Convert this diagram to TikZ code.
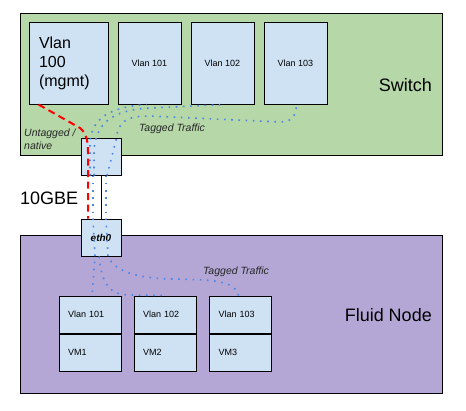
\documentclass[tikz,border=0pt]{standalone}
\usepackage{fontspec}
\setmainfont{Liberation Sans}
\usepackage{xcolor}
\definecolor{switchgreen}{HTML}{B6D7A8}
\definecolor{nodepurple}{HTML}{B4A7D6}
\definecolor{vlanblue}{HTML}{CFE2F3}
\definecolor{dotblue}{HTML}{4A86E8}
\tikzset{
    area-box/.style = {draw=black, line width=1pt, rectangle, inner sep=0pt, minimum width=422pt},
    vlan-box/.style = {draw=black, fill=vlanblue, line width=1pt, rectangle, inner sep=0pt, minimum width=63pt, minimum height=82pt, font=\fontsize{9}{11}\selectfont},
    vm-box/.style = {vlan-box, minimum width=62pt, minimum height=37pt, inner xsep=9pt, text width=44pt, align=left},
    port-box/.style = {draw=black, fill=vlanblue, line width=1pt, rectangle, inner sep=0pt, minimum width=40pt, minimum height=37pt},
    big-label/.style = {font=\fontsize{18}{20}\selectfont, inner sep=0pt},
    small-label/.style = {font=\fontsize{10.5}{13}\selectfont\itshape, text=black!85, inner sep=0pt},
    tagged-line/.style = {dotblue, line width=1.6pt, dash pattern=on 1.6pt off 5.6pt},
    untagged-line/.style = {red, line width=2pt, dash pattern=on 7pt off 4.5pt},
}
\begin{document}
\begin{tikzpicture}[x=1pt, y=-1pt]
\useasboundingbox (0,0) rectangle (466,410);
% switch
\node [area-box, fill=switchgreen, minimum height=142pt] (switch) at (231,84) {};
\node [big-label, anchor=east] (switch-label) at (432,85) {Switch};
\node [vlan-box, minimum width=79pt, inner xsep=10pt, text width=59pt, align=left, font=\fontsize{16}{19}\selectfont] (vlan100) at (68.5,63) {Vlan\\100\\(mgmt)};
\node [vlan-box] (vlan101) at (149.5,63) {Vlan 101};
\node [vlan-box] (vlan102) at (222.5,63) {Vlan 102};
\node [vlan-box] (vlan103) at (295.5,63) {Vlan 103};
\node [port-box] (port) at (101,156.5) {};
% fluid node
\node [area-box, fill=nodepurple, minimum height=158pt] (fluid) at (231,314) {};
\node [big-label, anchor=east] (fluid-label) at (432,315) {Fluid Node};
\node [port-box, font=\fontsize{10}{12}\selectfont\bfseries\itshape] (eth0) at (101,237.5) {eth0};
\draw [line width=1pt] (port.south) -- (eth0.north);
\node [vm-box] (vlan-a) at (90,314.5) {Vlan 101};
\node [vm-box, anchor=north] (vm-a) at (vlan-a.south) {VM1};
\node [vm-box] (vlan-b) at (165,314.5) {Vlan 102};
\node [vm-box, anchor=north] (vm-b) at (vlan-b.south) {VM2};
\node [vm-box] (vlan-c) at (240.5,314.5) {Vlan 103};
\node [vm-box, anchor=north] (vm-c) at (vlan-c.south) {VM3};
\node [big-label, anchor=west] (gbe) at (20,198) {10GBE};
\node [small-label, anchor=west, align=left] (untagged) at (24,139.5) {Untagged /\\native};
\node [small-label] (tagged-top) at (172,129) {Tagged Traffic};
\node [small-label] (tagged-bottom) at (236,272) {Tagged Traffic};
% untagged path
\draw [untagged-line] ([xshift=10pt]vlan100.south west) -- (80,128) .. controls (86,133) and (88,140) .. (88,152) -- ([xshift=-13pt]eth0.north);
% tagged paths, switch side
\draw [tagged-line] ([xshift=-11pt]port.south) -- (90,142) .. controls (92,118) and (110,107) .. ([xshift=-3pt]vlan101.south);
\draw [tagged-line] ([xshift=-7pt]port.south) -- (94,150) .. controls (96,125) and (110,110) .. (150,108) -- ([xshift=2pt]vlan102.south);
\draw [tagged-line] ([xshift=6pt]port.south) -- (116,140) .. controls (118,122) and (125,116) .. (150,116) -- (280,122) .. controls (292,122) and (296,116) .. ([xshift=1pt]vlan103.south);
\draw [tagged-line] ([xshift=-8pt]port.south) -- ([xshift=-8pt]eth0.north);
\draw [tagged-line] ([xshift=5pt]port.south) -- ([xshift=5pt]eth0.north);
% tagged paths, node side
\draw [tagged-line] ([xshift=-8pt]eth0.north) -- ([xshift=-6pt]eth0.south) -- ([xshift=2pt]vlan-a.north);
\draw [tagged-line] ([xshift=-2pt]eth0.south) .. controls (102,285) and (110,295) .. (130,295) -- ([xshift=2pt]vlan-b.north);
\draw [tagged-line] ([xshift=5pt]eth0.north) -- ([xshift=7pt]eth0.south) .. controls (115,272) and (140,279) .. (175,279) -- (205,280) .. controls (228,282) and (236,286) .. ([xshift=-2pt]vlan-c.north);
\end{tikzpicture}
\end{document}
